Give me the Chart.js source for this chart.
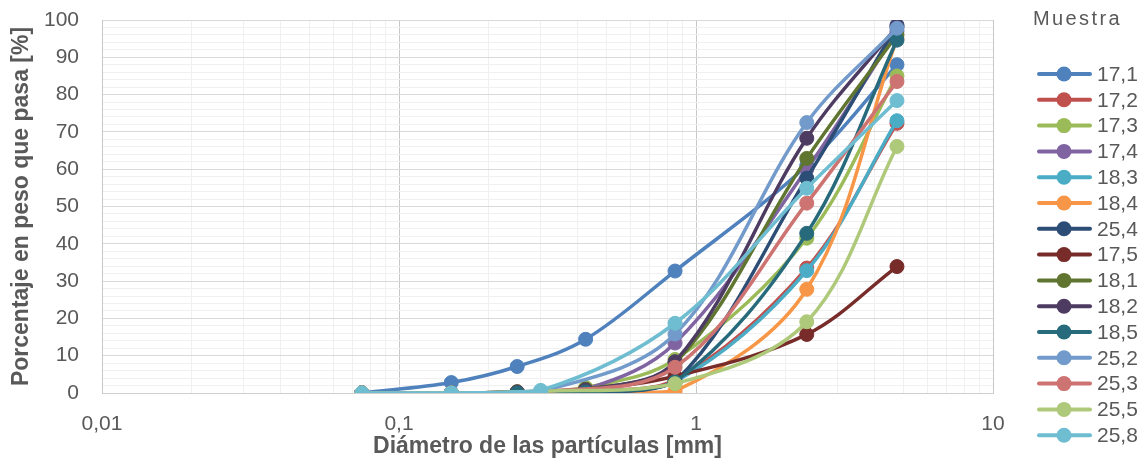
<!DOCTYPE html>
<html>
<head>
<meta charset="utf-8">
<title>Curvas granulométricas</title>
<script src="https://cdn.jsdelivr.net/npm/chart.js@4.4.1/dist/chart.umd.min.js"></script>
<style>
  html, body { margin: 0; padding: 0; background: #fff; }
  canvas { display: block; }
</style>
</head>
<body>
<canvas id="chart" width="1147" height="466"></canvas>
<script>
// Sieve openings [mm]; the 25,x samples were sieved on a slightly different set
const SIEVES_A = [0.075, 0.15, 0.25, 0.425, 0.85, 2.36, 4.75];
const SIEVES_B = [0.075, 0.15, 0.3, 0.85, 2.36, 4.75];

const SAMPLES = ['17,1', '17,2', '17,3', '17,4', '18,3', '18,4', '25,4', '17,5',
                 '18,1', '18,2', '18,5', '25,2', '25,3', '25,5', '25,8'];

// % passing for each sample
const P_17_1 = [0, 2.8, 7.1, 14.4, 32.7, 61, 88];
const P_17_2 = [0, 0, 0.2, 0.6, 3.5, 33.5, 72.3];
const P_17_3 = [0, 0, 0.3, 1.5, 9, 41.5, 85];
const P_17_4 = [0, 0, 0.3, 1, 13.4, 60, 97];
const P_18_3 = [0, 0, 0.1, 0.4, 3, 32.8, 73];
const P_18_4 = [0, 0, 0, 0, 0.5, 27.8, 95];
const P_25_4 = [0, 0, 0, 0, 3, 57.6, 98.6];
const P_17_5 = [0, 0, 0.3, 1, 4.5, 15.7, 33.9];
const P_18_1 = [0, 0, 0.3, 1, 8, 62.9, 96];
const P_18_2 = [0, 0, 0.2, 0.8, 8.4, 68.3, 98.2];
const P_18_5 = [0, 0, 0, 0.3, 3, 42.8, 94.6];
const P_25_2 = [0, 0, 0.5, 15.8, 72.5, 97.8];
const P_25_3 = [0, 0, 0.3, 6.9, 50.9, 83.5];
const P_25_5 = [0, 0, 0.5, 2.5, 19.1, 66.1];
const P_25_8 = [0, 0, 0.7, 18.7, 54.9, 78.4];

const VALUES = [P_17_1, P_17_2, P_17_3, P_17_4, P_18_3, P_18_4, P_25_4, P_17_5,
                P_18_1, P_18_2, P_18_5, P_25_2, P_25_3, P_25_5, P_25_8];
const SIEVE_SETS = [SIEVES_A, SIEVES_A, SIEVES_A, SIEVES_A, SIEVES_A, SIEVES_A, SIEVES_A, SIEVES_A,
                    SIEVES_A, SIEVES_A, SIEVES_A, SIEVES_B, SIEVES_B, SIEVES_B, SIEVES_B];

const COLORS = ['#4F81BD', '#C0504D', '#9BBB59', '#8064A2', '#4BACC6', '#F79646', '#2C4D75', '#772C2A',
                '#5F7530', '#4D3B62', '#276A7C', '#729ACA', '#CD7371', '#AFC97A', '#6FBDD1'];

const X_DECADES = [0.01, 0.1, 1, 10];
const X_LABELS = ['0,01', '0,1', '1', '10'];
const Y_MIN = 0;
const Y_MAX = 100;

const TEXT = '#595959';
const FONT = '"Liberation Sans", Arial, sans-serif';

// tick list for the log axis: decades plus 2..9 in between (minor grid)
function buildLogTicks() {
  const ticks = [];
  X_DECADES.forEach((d, i) => {
    ticks.push({ value: d });
    if (i < X_DECADES.length - 1) {
      for (let k = 2; k <= 9; k++) ticks.push({ value: +(d * k).toPrecision(6) });
    }
  });
  return ticks;
}

function isDecade(v) {
  return X_DECADES.some(d => Math.abs(d - v) < d * 1e-6);
}

const sideLegend = {
  id: 'sideLegend',
  afterDraw(chart) {
    const ctx = chart.ctx;
    ctx.save();
    ctx.fillStyle = TEXT;
    ctx.textBaseline = 'middle';
    ctx.font = '20px ' + FONT;
    ctx.letterSpacing = '2.4px';
    ctx.fillText('Muestra', 1033, 19);
    ctx.letterSpacing = '0px';
    ctx.font = '21px ' + FONT;
    chart.data.datasets.forEach((ds, i) => {
      const y = 74 + i * 25.8;
      ctx.strokeStyle = ds.borderColor;
      ctx.lineWidth = 4;
      ctx.lineCap = 'round';
      ctx.beginPath();
      ctx.moveTo(1039, y);
      ctx.lineTo(1090, y);
      ctx.stroke();
      ctx.fillStyle = ds.borderColor;
      ctx.beginPath();
      ctx.arc(1064, y, 7.5, 0, Math.PI * 2);
      ctx.fill();
      ctx.fillStyle = TEXT;
      ctx.fillText(ds.label, 1097, y + 1);
    });
    ctx.restore();
  }
};

Chart.defaults.font.family = FONT;
Chart.defaults.color = TEXT;

const datasets = SAMPLES.map((name, i) => ({
  label: name,
  data: VALUES[i].map((v, j) => ({ x: SIEVE_SETS[i][j], y: v })),
  borderColor: COLORS[i],
  backgroundColor: COLORS[i],
  pointBackgroundColor: COLORS[i],
  pointBorderColor: COLORS[i],
  borderWidth: 3.5,
  pointRadius: 7,
  pointBorderWidth: 1,
  tension: 0.35,
  order: -i
}));

new Chart(document.getElementById('chart'), {
  type: 'line',
  data: { datasets },
  plugins: [sideLegend],
  options: {
    responsive: false,
    animation: false,
    devicePixelRatio: 1,
    layout: { padding: { top: 20, right: 154, left: 0, bottom: 0 } },
    plugins: {
      legend: { display: false },
      tooltip: { enabled: false }
    },
    scales: {
      x: {
        type: 'logarithmic',
        min: 0.01,
        max: 10,
        afterBuildTicks: axis => { axis.ticks = buildLogTicks(); },
        afterFit: axis => { axis.height = 73; },
        ticks: {
          autoSkip: false,
          maxRotation: 0,
          padding: 19,
          font: { size: 21 },
          color: TEXT,
          callback: v => {
            const k = X_DECADES.findIndex(d => Math.abs(d - v) < d * 1e-6);
            return k >= 0 ? X_LABELS[k] : '';
          }
        },
        grid: {
          drawTicks: false,
          color: ctx => isDecade(ctx.tick.value) ? '#C8C8C8' : '#F0F0F0',
          lineWidth: 1
        },
        border: { color: '#D0D0D0', width: 1 },
        title: {
          display: true,
          text: 'Diámetro de las partículas [mm]',
          color: TEXT,
          font: { size: 23, weight: 'bold' },
          padding: { top: 0, bottom: 6 }
        }
      },
      y: {
        min: Y_MIN,
        max: Y_MAX,
        afterFit: axis => { axis.width = 102; },
        ticks: {
          stepSize: 2,
          autoSkip: false,
          padding: 0,
          font: { size: 21 },
          color: TEXT,
          callback: v => (v % 10 === 0 ? String(v) : '')
        },
        grid: {
          drawTicks: true,
          tickLength: 23,
          tickColor: 'rgba(0,0,0,0)',
          color: ctx => (ctx.tick.value % 10 === 0 ? '#D9D9D9' : '#F0F0F0'),
          lineWidth: 1
        },
        border: { color: '#C8C8C8', width: 1 },
        title: {
          display: true,
          text: 'Porcentaje en peso que pasa [%]',
          color: TEXT,
          font: { size: 23, weight: 'bold' },
          padding: { top: 8, bottom: 0 }
        }
      }
    }
  }
});
</script>
</body>
</html>
